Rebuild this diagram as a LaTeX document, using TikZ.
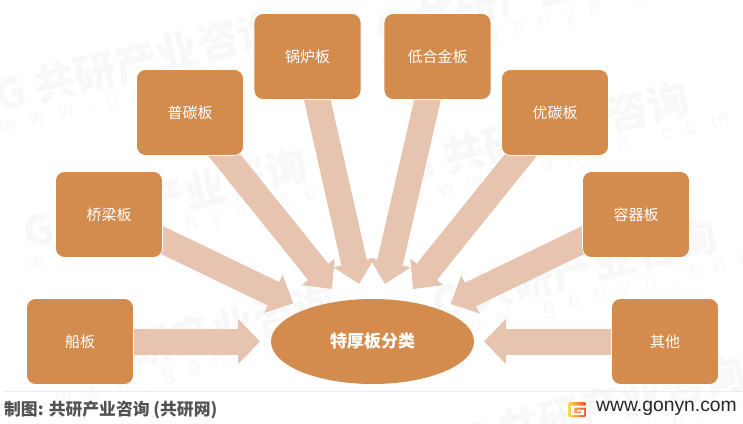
\documentclass[tikz,border=0pt]{standalone}
\usepackage{fontspec}
\usepackage{color}
\setmainfont{Noto Sans CJK SC}
\newfontfamily\latinfont{Liberation Sans}
\newfontfamily\wmfont[LetterSpace=64]{Liberation Sans}
\usetikzlibrary{arrows.meta}
\usetikzlibrary{positioning}
\usetikzlibrary{shapes.geometric}
\usetikzlibrary{backgrounds}
\definecolor{plateorange}{HTML}{D38C4E}
\definecolor{linkpeach}{HTML}{E6C4B0}
\definecolor{wmgray}{HTML}{F8F8F8}
\tikzset{
    plate/.style={draw=white, line width=0.8pt, fill=plateorange, rounded corners=9pt, minimum width=107pt, minimum height=86pt, inner sep=0pt, text=white, font=\fontsize{15}{18}\selectfont},
    hub/.style={ellipse, fill=plateorange, minimum width=203pt, minimum height=85pt, inner sep=0pt, text=white, font=\fontsize{17}{20}\selectfont\bfseries},
    link/.style={draw=linkpeach, line width=26pt, -{Triangle[length=22pt, width=#1]}},
    link/.default=41pt,
    wmtitle/.style={rotate=14, anchor=west, text=wmgray, inner sep=0pt, font=\fontsize{42}{44}\selectfont\bfseries},
    wmurl/.style={rotate=14, anchor=west, text=wmgray, inner sep=0pt, font=\fontsize{22}{24}\wmfont},
}
\begin{document}
\begin{tikzpicture}[x=1pt, y=-1pt]
    \useasboundingbox (0, 0) rectangle (743, 423);
    % plates
    \node[plate] (chuan) at (80, 341.5) {船板};
    \node[plate] (qiao) at (109, 214.5) {桥梁板};
    \node[plate] (pu) at (190, 112.5) {普碳板};
    \node[plate] (guo) at (307.5, 56.5) {锅炉板};
    \node[plate] (di) at (437.5, 56.5) {低合金板};
    \node[plate] (you) at (555, 112.5) {优碳板};
    \node[plate] (rong) at (636, 214.5) {容器板};
    \node[plate] (qita) at (665, 341.5) {其他};
    \node[hub] (lei) at (372.5, 341.5) {特厚板分类};
    % arrow tips
    \coordinate (tchuan) at (260, 341.5);
    \coordinate (tqiao) at (293.3, 303.3);
    \coordinate (tpu) at (332, 289);
    \coordinate (tguo) at (359, 284);
    \coordinate (tdi) at (385, 284);
    \coordinate (tyou) at (413, 289);
    \coordinate (trong) at (450.7, 304);
    \coordinate (tqita) at (484, 341.5);
    \begin{scope}[on background layer]
        % watermark
        \foreach \i/\wx/\wy in {1/-5/97, 2/376/31, 3/23/234, 4/404/168, 5/51/371, 6/432/305, 7/460/442}{
            \node[wmtitle] (mark\i) at (\wx, \wy) {G 共研产业咨询};
            \node[wmurl] (url\i) at (\wx+6, \wy+33) {www.gonyn.com};
        }
        \draw[link=44pt] (chuan.center) -- (tchuan);
        \draw[link] (qiao.center) -- (tqiao);
        \draw[link] (pu.center) -- (tpu);
        \draw[link] (guo.center) -- (tguo);
        \draw[link] (di.center) -- (tdi);
        \draw[link] (you.center) -- (tyou);
        \draw[link] (rong.center) -- (trong);
        \draw[link=44pt] (qita.center) -- (tqita);
    \end{scope}
    % footer
    \coordinate (rulea) at (4, 391.5);
    \coordinate (ruleb) at (743, 391.5);
    \draw[color=black!7, line width=1pt] (rulea) -- (ruleb);
    \node[anchor=west, inner sep=0pt, text=black!68, font=\fontsize{16.8}{20}\selectfont\bfseries] (source) at (4, 410) {制图: 共研产业咨询 (共研网)};
    \node[anchor=west, inner sep=0pt, text=black!85, font=\fontsize{19.3}{22}\latinfont] (site) at (596, 408) {www.gonyn.com};
    \shade[left color=yellow!60!orange!70, right color=red!70!orange!85, rounded corners=1.5pt] (568, 402) rectangle (586, 417);
    \fill[white] (571, 405.5) -- (586, 405.5) -- (586, 407.5) -- (574, 407.5) -- (574, 413) -- (581, 413) -- (581, 411.5) -- (577, 411.5) -- (577, 409.5) -- (584, 409.5) -- (584, 415) -- (571, 415) -- cycle;
\end{tikzpicture}
\end{document}
